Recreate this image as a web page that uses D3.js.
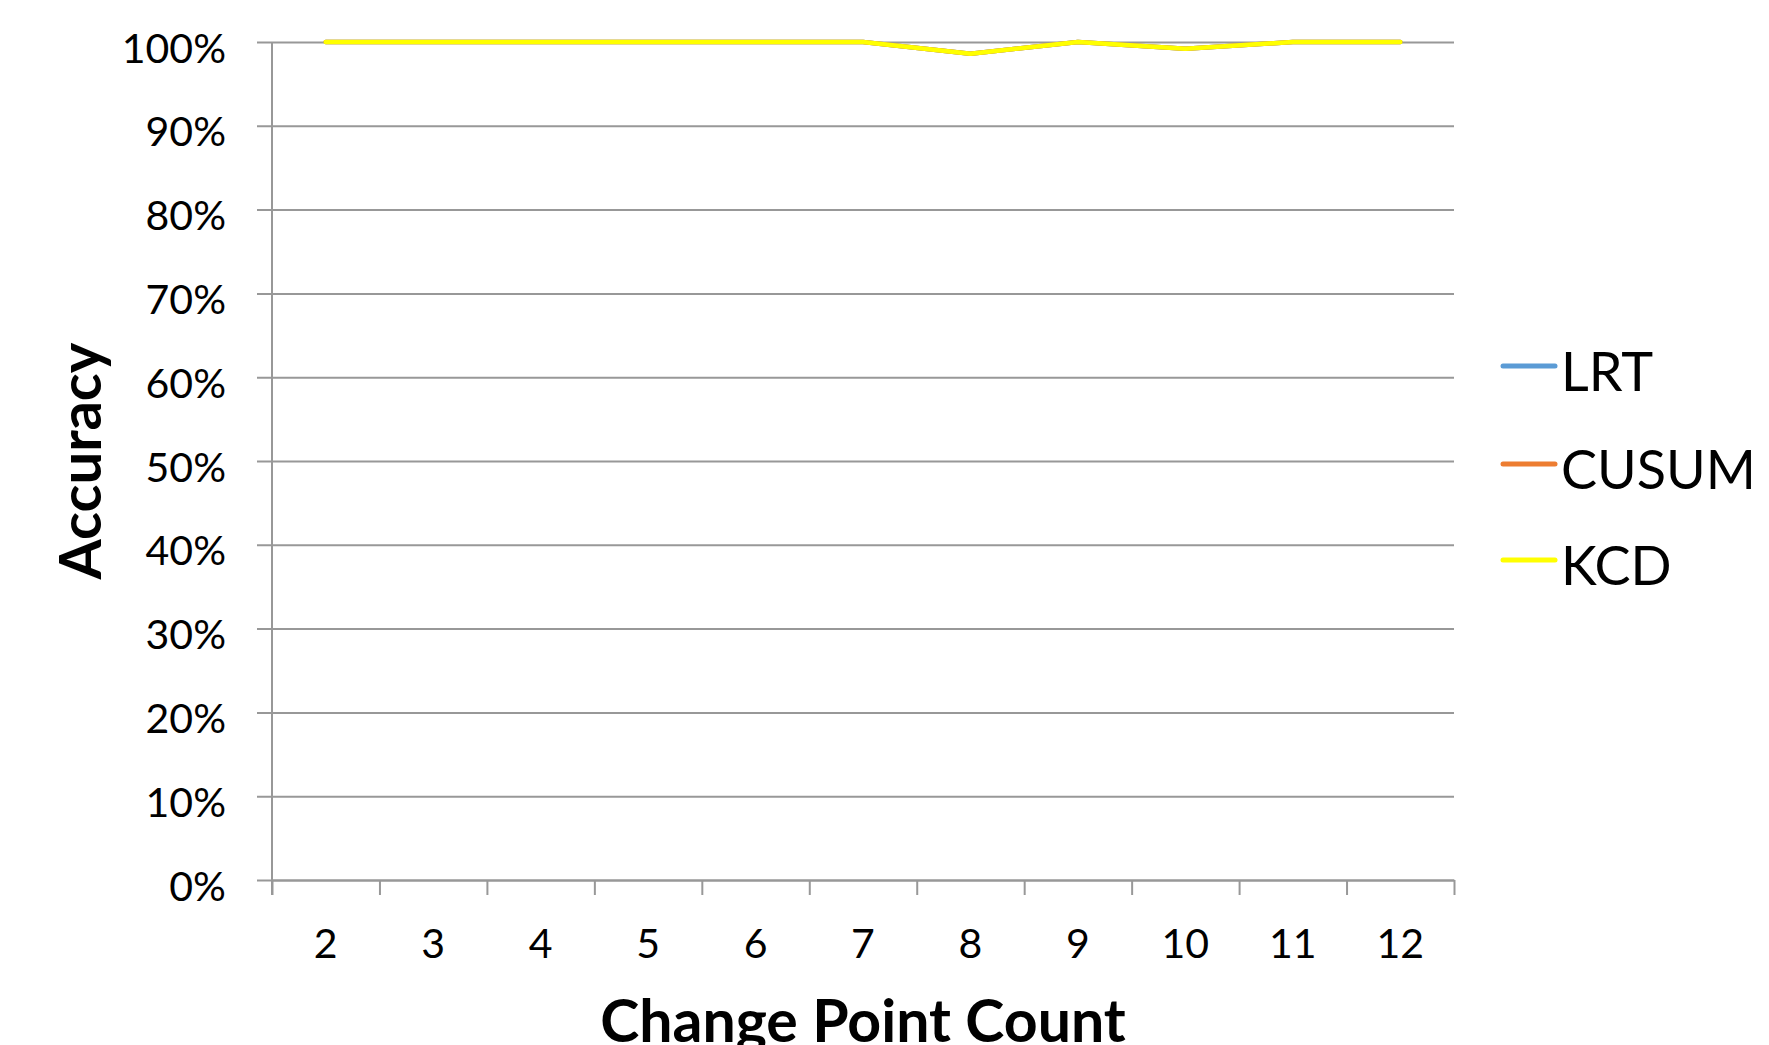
<!DOCTYPE html>
<html>
<head>
<meta charset="utf-8">
<script src="https://cdn.jsdelivr.net/npm/d3@7"></script>
<style>
  html, body { margin: 0; padding: 0; background: #fff; }
  svg { display: block; font-family: Lato, "Open Sans", sans-serif; }
</style>
</head>
<body>
<svg id="chart" width="1769" height="1045"></svg>
<script>
// Change point counts along the x axis
const categories = ["2", "3", "4", "5", "6", "7", "8", "9", "10", "11", "12"];

// Detection accuracy per method (fraction of 1)
const lrtValues   = [1, 1, 1, 1, 1, 1, 0.986, 1, 0.992, 1, 1];
const cusumValues = [1, 1, 1, 1, 1, 1, 0.986, 1, 0.992, 1, 1];
const kcdValues   = [1, 1, 1, 1, 1, 1, 0.986, 1, 0.992, 1, 1];

const seriesNames = ["LRT", "CUSUM", "KCD"];
const seriesColors = ["#5B9BD5", "#ED7D31", "#FFFF00"];

const yTicks = [0, 0.1, 0.2, 0.3, 0.4, 0.5, 0.6, 0.7, 0.8, 0.9, 1];

const series = [lrtValues, cusumValues, kcdValues].map((vals, i) => ({
  name: seriesNames[i],
  color: seriesColors[i],
  values: vals
}));

const svg = d3.select("#chart");
const plotLeft = 272, plotRight = 1454, plotTop = 42, plotBottom = 880;
const gridColor = "#989898";

const x = d3.scaleBand().domain(categories).range([plotLeft, plotRight]);
const xIndex = d3.scaleLinear().domain([0, categories.length]).range([plotLeft, plotRight]);
const y = d3.scaleLinear().domain([0, 1]).range([plotBottom, plotTop]);

// Horizontal gridlines, extended 15px left of the axis as ticks
const grid = svg.append("g")
  .attr("transform", `translate(${plotRight},0)`)
  .call(d3.axisLeft(y).tickValues(yTicks).tickSize(plotRight - plotLeft + 15).tickFormat(""));
grid.select(".domain").remove();
grid.selectAll(".tick line").attr("stroke", gridColor).attr("stroke-width", 2);

// Y axis labels
const yAxis = svg.append("g")
  .attr("transform", `translate(${plotLeft},0)`)
  .call(d3.axisLeft(y).tickValues(yTicks).tickFormat(d3.format(".0%")).tickSize(15).tickPadding(31));
yAxis.select(".domain").remove();
yAxis.selectAll(".tick line").remove();
yAxis.selectAll(".tick text")
  .attr("dy", "0.49em")
  .attr("font-size", 41)
  .attr("font-family", "Lato, sans-serif")
  .attr("fill", "#000");

// Vertical axis line
svg.append("line")
  .attr("x1", plotLeft).attr("x2", plotLeft)
  .attr("y1", plotTop).attr("y2", plotBottom + 15)
  .attr("stroke", gridColor).attr("stroke-width", 2);

// X axis: boundary ticks
const xTicks = svg.append("g")
  .attr("transform", `translate(0,${plotBottom})`)
  .call(d3.axisBottom(xIndex).tickValues(d3.range(0, categories.length + 1)).tickSize(15).tickFormat("").tickSizeOuter(0));
xTicks.select(".domain").attr("stroke", gridColor).attr("stroke-width", 2);
xTicks.selectAll(".tick line").attr("stroke", gridColor).attr("stroke-width", 2);

// X axis: category labels
const xAxis = svg.append("g")
  .attr("transform", `translate(0,${plotBottom})`)
  .call(d3.axisBottom(x).tickSize(0));
xAxis.select(".domain").remove();
xAxis.selectAll(".tick text")
  .attr("y", 78).attr("dy", 0)
  .attr("font-size", 41)
  .attr("font-family", "Lato, sans-serif")
  .attr("fill", "#000");

// Series lines
const line = d3.line()
  .x((d, i) => x(categories[i]) + x.bandwidth() / 2)
  .y(d => y(d));

svg.append("g").selectAll("path")
  .data(series)
  .join("path")
  .attr("d", d => line(d.values))
  .attr("fill", "none")
  .attr("stroke", d => d.color)
  .attr("stroke-width", 4.5)
  .attr("stroke-linejoin", "round")
  .attr("stroke-linecap", "round");

// Legend
const legend = svg.append("g").selectAll("g")
  .data(series)
  .join("g")
  .attr("transform", (d, i) => `translate(0,${[391, 489, 585][i]})`);
legend.append("line")
  .attr("x1", 1503).attr("x2", 1555)
  .attr("y1", -25).attr("y2", -25)
  .attr("stroke", d => d.color)
  .attr("stroke-width", 5)
  .attr("stroke-linecap", "round");
legend.append("text")
  .attr("x", 1561).attr("y", 0)
  .attr("font-size", 54)
  .attr("fill", "#000")
  .text(d => d.name);

// Axis titles
svg.append("text")
  .attr("x", (plotLeft + plotRight) / 2).attr("y", 1042)
  .attr("text-anchor", "middle")
  .attr("font-size", 59)
  .attr("font-weight", "bold")
  .attr("fill", "#000")
  .text("Change Point Count");

svg.append("text")
  .attr("transform", `translate(101,${(plotTop + plotBottom) / 2}) rotate(-90)`)
  .attr("text-anchor", "middle")
  .attr("font-size", 58)
  .attr("font-weight", "bold")
  .attr("fill", "#000")
  .text("Accuracy");
</script>
</body>
</html>
